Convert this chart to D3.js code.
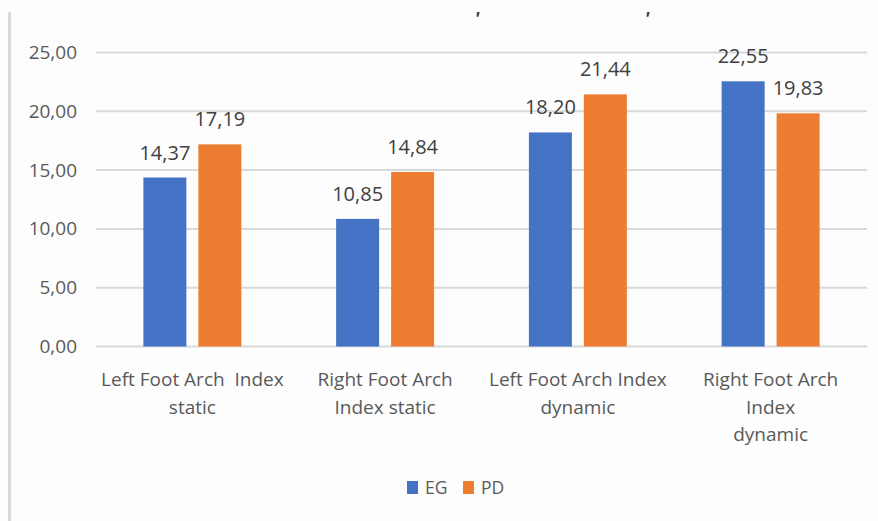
<!DOCTYPE html>
<html>
<head>
<meta charset="utf-8">
<script src="https://cdn.jsdelivr.net/npm/d3@7"></script>
<style>
  html, body { margin: 0; padding: 0; background: #fdfdfd; }
  svg { display: block; font-family: "Open Sans", sans-serif; }
</style>
</head>
<body>
<svg id="chart" width="878" height="521"></svg>
<script>
// Arch index by group
const categories = [
  ["Left Foot Arch  Index", "static"],
  ["Right Foot Arch", "Index static"],
  ["Left Foot Arch Index", "dynamic"],
  ["Right Foot Arch", "Index", "dynamic"]
];
const seriesNames = ["EG", "PD"];
const egValues = [14.37, 10.85, 18.20, 22.55];
const pdValues = [17.19, 14.84, 21.44, 19.83];
const yTicks = [0, 5, 10, 15, 20, 25];
const seriesColors = ["#4472C4", "#ED7D31"];

const svg = d3.select("#chart");
const W = 878, H = 521;
const plot = { left: 96, right: 867, top: 52.5, bottom: 346.5 };
const textColor = "#595959";
const fmt = v => v.toFixed(2).replace(".", ",");

svg.append("rect").attr("width", W).attr("height", H).attr("fill", "#fdfdfd");

// left frame edge
svg.append("line")
  .attr("x1", 9.5).attr("x2", 9.5).attr("y1", 12).attr("y2", H)
  .attr("stroke", "#d9d9d9").attr("stroke-width", 3);

// remnants of the title line above the plot
svg.selectAll("text.title-mark").data([477, 647]).join("text")
  .attr("class", "title-mark")
  .attr("x", d => d).attr("y", 25)
  .attr("text-anchor", "middle")
  .attr("font-size", 18).attr("font-weight", "bold").attr("font-style", "italic")
  .attr("fill", "#3a3a3a")
  .text("'");

const idx = d3.range(categories.length);
const x0 = d3.scaleBand().domain(idx).range([plot.left, plot.right]).padding(0);
const x1 = d3.scaleBand().domain(seriesNames).range([0, x0.bandwidth()])
  .paddingInner(0.218).paddingOuter(0.862);
const y = d3.scaleLinear().domain([0, 25]).range([plot.bottom, plot.top]);

// gridlines
svg.append("g").selectAll("line").data(yTicks).join("line")
  .attr("x1", plot.left).attr("x2", plot.right)
  .attr("y1", d => y(d)).attr("y2", d => y(d))
  .attr("stroke", "#d9d9d9").attr("stroke-width", 2);

// y axis labels
const yAxis = d3.axisLeft(y).tickValues(yTicks).tickFormat(fmt).tickSize(0).tickPadding(0);
const yg = svg.append("g").attr("transform", "translate(77,0)").call(yAxis);
yg.select(".domain").remove();
yg.selectAll("text").attr("font-size", 19).attr("fill", textColor)
  .attr("font-family", "Open Sans, sans-serif");

// bars
const series = seriesNames.map((name, si) => ({
  name, color: seriesColors[si], values: si === 0 ? egValues : pdValues
}));
const groups = svg.append("g").selectAll("g").data(series).join("g")
  .attr("fill", d => d.color);
groups.selectAll("rect").data(s => s.values.map((v, i) => ({ v, i, name: s.name })))
  .join("rect")
  .attr("x", d => x0(d.i) + x1(d.name))
  .attr("width", x1.bandwidth())
  .attr("y", d => y(d.v))
  .attr("height", d => y(0) - y(d.v));

// value labels
const labels = svg.append("g");
series.forEach(s => {
  labels.selectAll(null).data(s.values.map((v, i) => ({ v, i }))).join("text")
    .attr("x", d => x0(d.i) + x1(s.name) + x1.bandwidth() / 2)
    .attr("y", d => y(d.v) - 18)
    .attr("text-anchor", "middle")
    .attr("font-size", 20).attr("fill", "#404040")
    .text(d => fmt(d.v));
});

// category labels
const cat = svg.append("g").selectAll("text").data(categories).join("text")
  .attr("text-anchor", "middle")
  .attr("font-size", 19).attr("fill", textColor)
  .style("white-space", "pre")
  .attr("transform", (d, i) => `translate(${x0(i) + x0.bandwidth() / 2},386)`);
cat.selectAll("tspan").data(d => d).join("tspan")
  .attr("x", 0).attr("y", (d, j) => j * 27.5)
  .text(d => d);

// legend
const legend = svg.append("g").attr("transform", "translate(407,481)");
const items = legend.selectAll("g").data(series).join("g")
  .attr("transform", (d, i) => `translate(${i * 56},0)`);
items.append("rect").attr("width", 11).attr("height", 13).attr("fill", d => d.color);
items.append("text").attr("x", 18).attr("y", 13)
  .attr("font-size", 17.5).attr("fill", textColor)
  .text(d => d.name);
</script>
</body>
</html>
